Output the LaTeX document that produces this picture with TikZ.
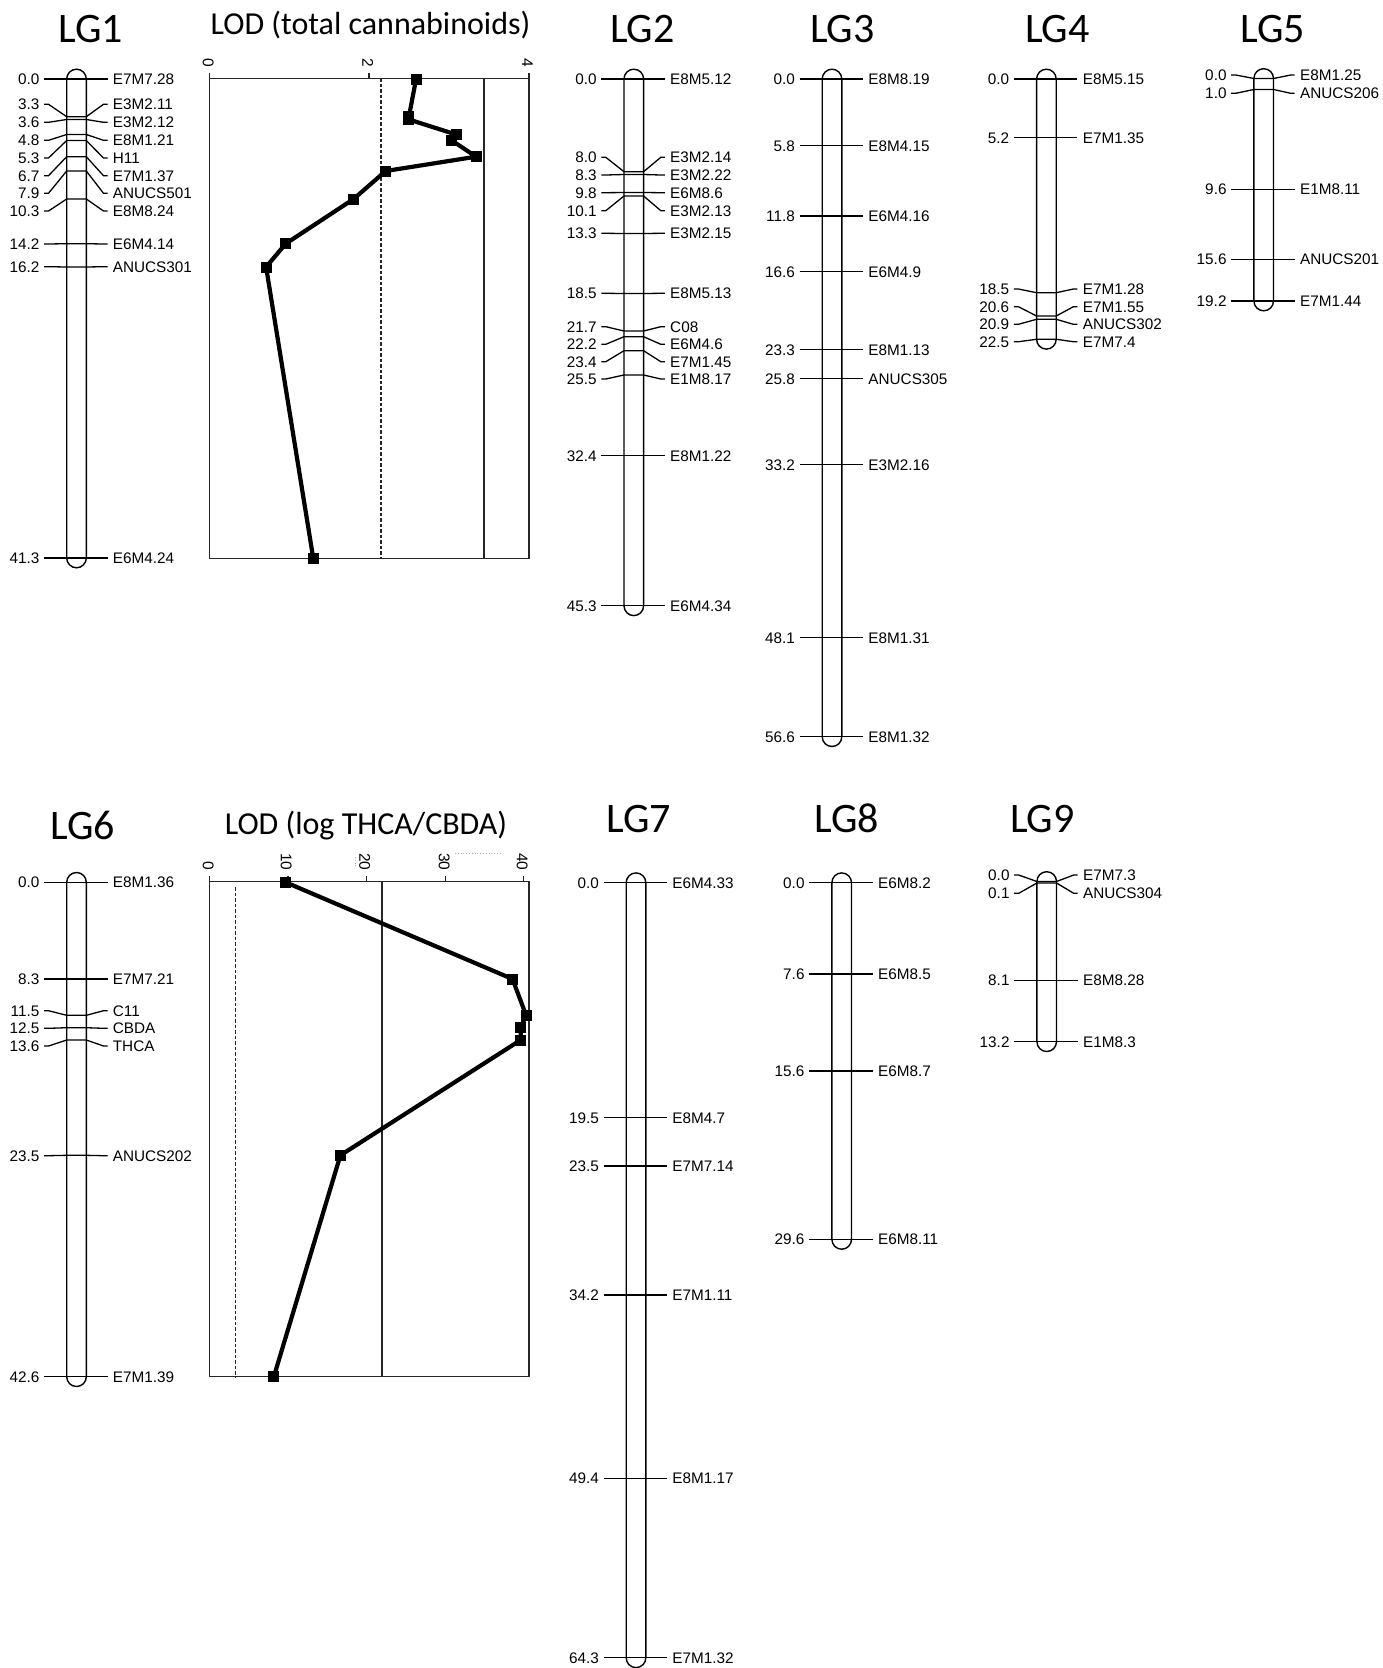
\documentclass[tikz,border=0pt]{standalone}
\usepackage{fontspec}
\setmainfont{Liberation Sans}
\newfontfamily\titlef{Carlito}
% chromosome: name, centre x, y of first marker, y of last marker
\newcommand{\chromo}[4]{\draw[chrom] (#2-9.8,#3-9.8) rectangle (#2+9.8,#4+9.8);}
% marker: id, centre x, marker y, label y, position, marker name
\newcommand{\mrk}[6]{%
  \draw[mline] (#2-32.5,#4) -- (#2-28,#4) -- (#2-9.8,#3) -- (#2+9.8,#3) -- (#2+27,#4) -- (#2+31,#4);
  \node[num] (#1p) at (#2-37,#4) {#5};
  \node[nm] (#1n) at (#2+36.2,#4) {#6};}
\begin{document}
\begin{tikzpicture}[x=1pt,y=-1pt,
  chrom/.style={draw=black,line width=1.4pt,rounded corners=9.8pt,fill=white},
  mline/.style={draw=black,line width=1.3pt},
  num/.style={anchor=east,inner sep=0pt,font=\fontsize{15.3}{18}\selectfont,text height=11pt,text depth=0pt},
  nm/.style={num,anchor=west},
  lgt/.style={anchor=base,inner sep=0pt,font=\titlef\fontsize{42}{48}\selectfont},
  lodt/.style={anchor=base,inner sep=0pt,font=\titlef\fontsize{32}{38}\selectfont},
  axl/.style={rotate=-90,anchor=east,inner sep=0pt,font=\fontsize{15.5}{18}\selectfont,text height=11.1pt,text depth=0pt},
  frame/.style={draw=black!85,line width=1.2pt},
  thr/.style={draw=black!85,line width=1.2pt},
  thrd/.style={thr,dash pattern=on 3.5pt off 2pt},
  lod/.style={draw=black,line width=4.2pt,line join=round},
  sq/.style={fill=black,inner sep=0pt,minimum size=11pt,draw=none},
  faint/.style={draw=black!30,dotted,line width=0.8pt}]
\useasboundingbox (0,0) rectangle (1382,1668);
\fill[white] (0,0) rectangle (1382,1668);

% ---------- titles ----------
\node[lgt] (t1) at (91,42.7) {LG1};
\node[lodt] (tl1) at (370.5,34.3) {LOD (total cannabinoids)};
\node[lgt] (t2) at (642.5,42.7) {LG2};
\node[lgt] (t3) at (842.5,42.7) {LG3};
\node[lgt] (t4) at (1057.5,42.7) {LG4};
\node[lgt] (t5) at (1273,42.7) {LG5};
\node[lgt] (t6) at (83,839.3) {LG6};
\node[lodt] (tl2) at (366,834.3) {LOD (log THCA/CBDA)};
\node[lgt] (t7) at (639,832.3) {LG7};
\node[lgt] (t8) at (846.7,832.3) {LG8};
\node[lgt] (t9) at (1042.5,832.3) {LG9};

% ---------- LG1 ----------
\chromo{c1}{76.5}{79}{558}
\mrk{ma}{76.5}{79}{79}{0.0}{E7M7.28}
\mrk{mb}{76.5}{116.7}{104.3}{3.3}{E3M2.11}
\mrk{mc}{76.5}{119.5}{122.3}{3.6}{E3M2.12}
\mrk{md}{76.5}{134.5}{140.3}{4.8}{E8M1.21}
\mrk{me}{76.5}{140.5}{158}{5.3}{H11}
\mrk{mf}{76.5}{156.7}{175.7}{6.7}{E7M1.37}
\mrk{mg}{76.5}{171}{193.3}{7.9}{ANUCS501}
\mrk{mh}{76.5}{199}{211}{10.3}{E8M8.24}
\mrk{mi}{76.5}{243.7}{244}{14.2}{E6M4.14}
\mrk{mj}{76.5}{267}{266.7}{16.2}{ANUCS301}
\mrk{mk}{76.5}{558}{558}{41.3}{E6M4.24}

% ---------- LOD plot 1 ----------
\draw[frame] (209.3,78.3) rectangle (529,558.3);
\draw[frame] (209.3,78.3) -- (209.3,73) (369,78.3) -- (369,73) (529,78.3) -- (529,73);
\node[axl] (ax0) at (208.5,67.5) {0};
\node[axl] (ax2) at (368,67.5) {2};
\node[axl] (ax4) at (527.7,67.5) {4};
\draw[thr] (484,78.3) -- (484,558.3);
\draw[thrd] (381,78.3) -- (381,558.3);
\coordinate (a0) at (416.1,79);
\coordinate (a1) at (408.9,116.7);
\coordinate (a2) at (408.9,119.5);
\coordinate (a3) at (456.1,134.5);
\coordinate (a4) at (451.8,140.5);
\coordinate (a5) at (476.1,156.7);
\coordinate (a6) at (385.7,171);
\coordinate (a7) at (353.6,199);
\coordinate (a8) at (285.7,243.7);
\coordinate (a9) at (266.1,267);
\coordinate (a10) at (313.2,558);
\draw[lod] (a0) -- (a1) -- (a2) -- (a3) -- (a4) -- (a5) -- (a6) -- (a7) -- (a8) -- (a9) -- (a10);
\foreach \k in {0,...,10} \node[sq] (sa\k) at (a\k) {};

% ---------- LG2 ----------
\chromo{c2}{633.8}{79}{605.8}
\mrk{na}{633.8}{79}{79}{0.0}{E8M5.12}
\mrk{nb}{633.8}{171.7}{157.3}{8.0}{E3M2.14}
\mrk{nc}{633.8}{174.5}{175}{8.3}{E3M2.22}
\mrk{nd}{633.8}{192.5}{192.7}{9.8}{E6M8.6}
\mrk{ne}{633.8}{196}{210.7}{10.1}{E3M2.13}
\mrk{nf}{633.8}{233.5}{233.3}{13.3}{E3M2.15}
\mrk{ng}{633.8}{293.5}{293.3}{18.5}{E8M5.13}
\mrk{nh}{633.8}{331}{326.7}{21.7}{C08}
\mrk{ni}{633.8}{336.7}{344.3}{22.2}{E6M4.6}
\mrk{nj}{633.8}{350.7}{361.7}{23.4}{E7M1.45}
\mrk{nk}{633.8}{375}{379}{25.5}{E1M8.17}
\mrk{nl}{633.8}{455.7}{455.7}{32.4}{E8M1.22}
\mrk{nm}{633.8}{605.8}{605.8}{45.3}{E6M4.34}

% ---------- LG3 ----------
\chromo{c3}{832}{79}{736.7}
\mrk{oa}{832}{79}{79}{0.0}{E8M8.19}
\mrk{ob}{832}{145.8}{145.8}{5.8}{E8M4.15}
\mrk{oc}{832}{216}{216}{11.8}{E6M4.16}
\mrk{od}{832}{271.8}{271.8}{16.6}{E6M4.9}
\mrk{oe}{832}{349.5}{349.5}{23.3}{E8M1.13}
\mrk{of}{832}{378.5}{378.5}{25.8}{ANUCS305}
\mrk{og}{832}{464.7}{464.7}{33.2}{E3M2.16}
\mrk{oh}{832}{637.5}{637.5}{48.1}{E8M1.31}
\mrk{oi}{832}{736.7}{736.7}{56.6}{E8M1.32}

% ---------- LG4 ----------
\chromo{c4}{1046.4}{79}{339.3}
\mrk{pa}{1046.4}{79}{79}{0.0}{E8M5.15}
\mrk{pb}{1046.4}{137.7}{137.7}{5.2}{E7M1.35}
\mrk{pc}{1046.4}{292.7}{289}{18.5}{E7M1.28}
\mrk{pd}{1046.4}{316}{306.7}{20.6}{E7M1.55}
\mrk{pe}{1046.4}{319.3}{324.3}{20.9}{ANUCS302}
\mrk{pf}{1046.4}{339.3}{341.7}{22.5}{E7M7.4}

% ---------- LG5 ----------
\chromo{c5}{1263.7}{78.5}{301}
\mrk{qa}{1263.7}{78.5}{75}{0.0}{E8M1.25}
\mrk{qb}{1263.7}{89.5}{93.3}{1.0}{ANUCS206}
\mrk{qc}{1263.7}{189.3}{189.3}{9.6}{E1M8.11}
\mrk{qd}{1263.7}{259.3}{259.3}{15.6}{ANUCS201}
\mrk{qe}{1263.7}{301}{301}{19.2}{E7M1.44}

% ---------- LG6 ----------
\chromo{c6}{76.5}{882.3}{1376.7}
\mrk{ra}{76.5}{882.3}{882.3}{0.0}{E8M1.36}
\mrk{rb}{76.5}{979}{979}{8.3}{E7M7.21}
\mrk{rc}{76.5}{1015.3}{1010.7}{11.5}{C11}
\mrk{rd}{76.5}{1027.7}{1028.3}{12.5}{CBDA}
\mrk{re}{76.5}{1040}{1046}{13.6}{THCA}
\mrk{rf}{76.5}{1155.3}{1155.7}{23.5}{ANUCS202}
\mrk{rg}{76.5}{1376.7}{1376.7}{42.6}{E7M1.39}

% ---------- LOD plot 2 ----------
\draw[faint] (455,853.5) -- (500,853.5);
\draw[faint] (355,857) -- (355,868);
\draw[frame] (209.3,881.7) rectangle (529,1376.7);
\draw[frame] (209.3,881.7) -- (209.3,876) (287.9,881.7) -- (287.9,876) (366.5,881.7) -- (366.5,876)
  (445.1,881.7) -- (445.1,876) (523.7,881.7) -- (523.7,876);
\node[axl] (bx0) at (208.5,870.8) {0};
\node[axl] (bx1) at (286.5,870.8) {10};
\node[axl] (bx2) at (365,870.8) {20};
\node[axl] (bx3) at (444.3,870.8) {30};
\node[axl] (bx4) at (522.5,870.8) {40};
\draw[thr] (382,881.7) -- (382,1376.7);
\draw[thrd] (235.5,887) -- (235.5,1376.7);
\coordinate (b0) at (285.7,882.3);
\coordinate (b1) at (512.5,979);
\coordinate (b2) at (526.1,1015.3);
\coordinate (b3) at (520.7,1027.7);
\coordinate (b4) at (520.7,1040);
\coordinate (b5) at (340.4,1155.3);
\coordinate (b6) at (273.9,1376.5);
\draw[lod] (b0) -- (b1) -- (b2) -- (b3) -- (b4) -- (b5) -- (b6);
\foreach \k in {0,...,6} \node[sq] (sb\k) at (b\k) {};

% ---------- LG7 ----------
\chromo{c7}{636}{882.7}{1657.8}
\mrk{sa}{636}{882.7}{882.7}{0.0}{E6M4.33}
\mrk{sb}{636}{1117.7}{1117.7}{19.5}{E8M4.7}
\mrk{sc}{636}{1165.9}{1165.9}{23.5}{E7M7.14}
\mrk{sd}{636}{1295}{1295}{34.2}{E7M1.11}
\mrk{se}{636}{1478.2}{1478.2}{49.4}{E8M1.17}
\mrk{sf}{636}{1657.8}{1657.8}{64.3}{E7M1.32}

% ---------- LG8 ----------
\chromo{c8}{841.7}{882.7}{1239.4}
\mrk{ua}{841.7}{882.7}{882.7}{0.0}{E6M8.2}
\mrk{ub}{841.7}{974}{974}{7.6}{E6M8.5}
\mrk{uc}{841.7}{1071}{1071}{15.6}{E6M8.7}
\mrk{ud}{841.7}{1239.4}{1239.4}{29.6}{E6M8.11}

% ---------- LG9 ----------
\chromo{c9}{1046.7}{881.5}{1041.7}
\mrk{va}{1046.7}{881.5}{875}{0.0}{E7M7.3}
\mrk{vb}{1046.7}{883}{893.3}{0.1}{ANUCS304}
\mrk{vc}{1046.7}{980.3}{980.3}{8.1}{E8M8.28}
\mrk{vd}{1046.7}{1041.7}{1041.7}{13.2}{E1M8.3}
\end{tikzpicture}
\end{document}
